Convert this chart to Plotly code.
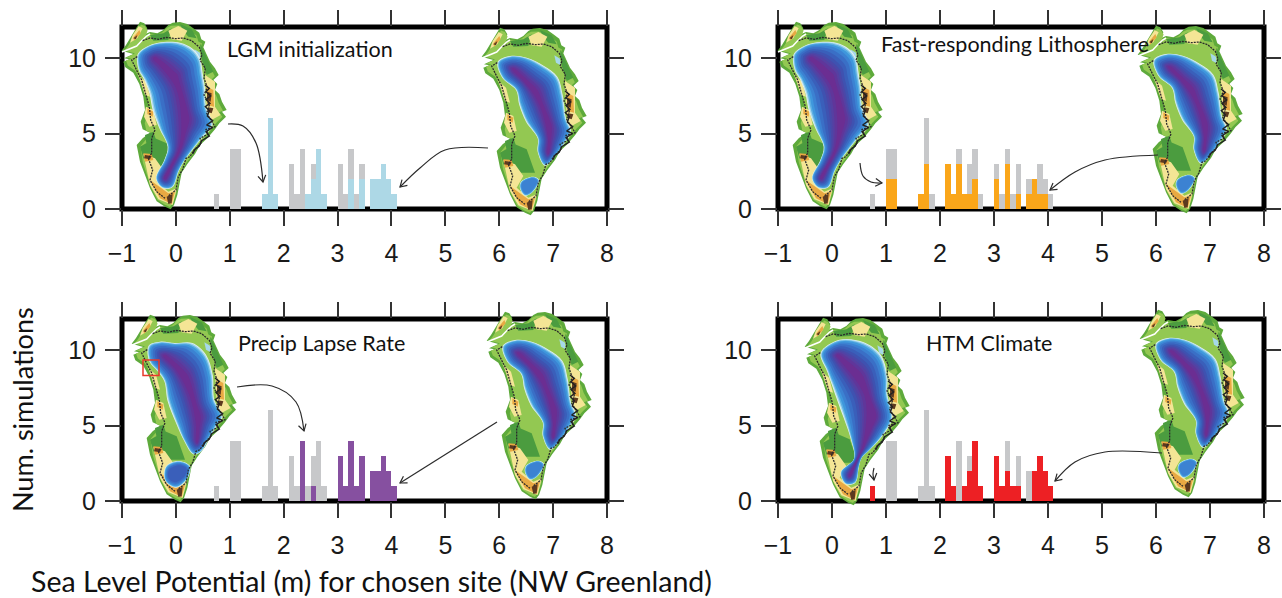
import plotly.graph_objects as go

# ---------- histogram data ----------
ALL_BINS = [0.75, 1.05, 1.15, 1.65, 1.75, 1.85, 2.15, 2.25, 2.35, 2.45, 2.55, 2.65, 2.75,
            3.05, 3.15, 3.25, 3.35, 3.45, 3.65, 3.75, 3.85, 3.95, 4.05]
ALL_COUNTS = [1, 4, 4, 1, 6, 1, 3, 1, 4, 1, 3, 4, 1, 3, 1, 4, 1, 3, 2, 2, 3, 2, 1]

LGM_BINS = [1.65, 1.75, 1.85, 2.45, 2.55, 2.65, 2.75, 3.25, 3.45, 3.65, 3.75, 3.85, 3.95, 4.05]
LGM_COUNTS = [1, 6, 1, 1, 2, 4, 1, 2, 2, 2, 2, 3, 2, 1]

LITHO_BINS = [1.05, 1.15, 1.65, 1.75, 2.15, 2.25, 2.35, 2.45, 2.55, 2.65, 3.05, 3.25, 3.45, 3.65, 3.75, 3.85, 3.95]
LITHO_COUNTS = [2, 2, 1, 3, 3, 1, 3, 1, 1, 2, 2, 3, 1, 1, 2, 1, 1]

PRECIP_BINS = [2.35, 2.55, 3.05, 3.15, 3.25, 3.35, 3.45, 3.65, 3.75, 3.85, 3.95, 4.05]
PRECIP_COUNTS = [4, 1, 3, 1, 4, 1, 3, 2, 2, 3, 2, 1]

HTM_BINS = [0.75, 2.15, 2.25, 2.45, 2.55, 2.65, 2.75, 3.05, 3.15, 3.25, 3.35, 3.45, 3.75, 3.85, 3.95, 4.05]
HTM_COUNTS = [1, 3, 1, 1, 2, 4, 1, 3, 1, 2, 1, 1, 2, 3, 2, 1]

PANEL_TITLES = ["LGM initialization", "Fast-responding Lithosphere", "Precip Lapse Rate", "HTM Climate"]
X_TICKS = [-1, 0, 1, 2, 3, 4, 5, 6, 7, 8]
Y_TICKS = [0, 5, 10]
X_LABEL = "Sea Level Potential (m) for chosen site (NW Greenland)"
Y_LABEL = "Num. simulations"

GRAY = "#c7c8ca"
COLORS = ["#add8e6", "#faa61a", "#8650a0", "#ed2024"]
SERIES = [(LGM_BINS, LGM_COUNTS), (LITHO_BINS, LITHO_COUNTS), (PRECIP_BINS, PRECIP_COUNTS), (HTM_BINS, HTM_COUNTS)]

W, H = 1282, 598
PANELS = [(122, 607, 27, 209), (778, 1264, 27, 209), (122, 607, 319, 501), (778, 1264, 319, 501)]
Y_TOP = 182 / 15.1

# ---------- Greenland illustration outlines (map units = 1/3 px) ----------
LAND = [(65,122),(78,105),(92,82),(105,60),(120,35),(133,40),(142,55),(136,72),(150,66),(172,70),(190,60),(205,45),(218,38),
        (240,36),(262,42),(280,55),(298,68),(304,88),(316,95),(310,112),(322,135),(330,155),(345,175),(356,195),(340,210),(352,222),(345,240),(358,252),
        (366,275),(380,300),(366,305),(378,320),(358,340),(345,358),(322,385),(300,405),(285,432),(262,462),(245,488),(240,515),
        (232,555),(222,585),(212,598),(195,590),(170,574),(150,535),(135,495),(120,455),(110,405),(128,385),(150,368),
        (128,358),(122,335),(135,300),(130,260),(118,222),(100,188),(76,172),(70,155),(88,148),(72,145),(100,132)]
ICE_LEFT_FULL = [(113,133),(140,110),(175,98),(240,98),(278,116),(300,145),(308,190),(315,235),(318,290),(338,345),
                 (308,382),(282,414),(257,447),(237,482),(217,532),(188,534),(168,505),(193,450),(203,410),(178,355),
                 (158,300),(148,250),(133,210),(116,180)]
ICE_BL_MAIN = [(116,128),(150,116),(195,120),(247,120),(288,155),(308,215),(313,290),(338,340),(318,372),(297,407),
               (272,447),(250,454),(223,415),(198,360),(173,295),(163,235),(143,205),(118,175)]
ICE_BL_DOME = [(168,490),(205,474),(240,490),(230,530),(198,554),(166,534)]
ICE_BR = [(113,140),(170,101),(240,108),(292,145),(313,210),(313,265),(328,335),(303,384),(262,430),(237,454),(228,480),
          (217,530),(188,534),(173,498),(213,458),(203,398),(168,298),(133,198)]
ICE_RIGHT_MAIN = [(113,138),(150,120),(200,125),(252,150),(292,182),(308,237),(318,307),(333,347),(312,384),(287,419),
                  (255,449),(233,407),(233,367),(198,317),(178,267),(168,222),(128,187)]
ICE_RIGHT_DOME = [(183,497),(220,482),(237,492),(217,529),(195,539),(180,517)]

SPINE_LAND = [(150,120),(215,150),(270,320),(230,420),(190,530)]
SPINE_LEFT = [(165,145),(225,200),(262,320),(240,420),(195,505)]
SPINE_BL = [(165,160),(230,225),(265,340),(262,415)]
SPINE_BR = [(165,150),(235,215),(275,330),(240,425),(200,510)]
SPINE_RIGHT = [(160,160),(225,225),(270,330),(265,410)]
SPINE_DOME_BL = [(190,515),(215,505)]
SPINE_DOME_R = [(205,510),(210,505)]

ICE_RAMP = ["#e3f2f5", "#a4d6ec", "#5cb0e3", "#3f97dc", "#3c82d2", "#3a6fc6", "#3a5fba", "#3f52b0", "#4a48a8", "#5640a2", "#60369a", "#6b2e92"]
ICE_STEPS = [0, 0.03, 0.07, 0.12, 0.2, 0.3, 0.42, 0.54, 0.64, 0.72, 0.8, 0.9]

DARK_GREEN = [(120,410),(165,385),(200,400),(225,470),(175,470),(130,445),
              None,(150,75),(190,70),(215,55),(205,90),(160,92),
              None,(300,100),(325,150),(340,185),(320,195),(305,150),
              None,(135,375),(160,365),(170,395),(140,405),
              None,(240,42),(275,58),(290,85),(265,80),(248,60)]
LIGHT_YELLOW = [(130,432),(165,445),(190,480),(170,515),(205,545),(230,535),(218,585),(175,568),(150,525),
                None,(98,75),(116,48),(128,55),(112,85),(90,98),
                None,(205,62),(235,48),(262,62),(245,92),(215,88),
                None,(315,195),(345,215),(345,290),(362,315),(325,335),(318,270),
                None,(138,290),(160,300),(170,345),(148,350),(132,320),
                None,(115,195),(138,215),(150,260),(135,255)]
ORANGE = [(150,510),(172,525),(205,550),(225,545),(215,582),(180,565),
          None,(320,230),(340,240),(342,290),(322,285),
          None,(100,82),(118,60),(122,70),(102,92),
          None,(142,295),(160,305),(158,320),(142,312),
          None,(130,430),(155,432),(160,450),(135,455)]
BROWN = [(200,560),(218,552),(215,580),(205,582),
         None,(322,245),(335,250),(332,275),(320,270),
         None,(135,435),(155,438),(150,448),(132,445),
         None,(100,85),(112,75),(108,88),
         None,(325,292),(340,295),(335,310),(322,305)]
PALE_BLUE = [(283,118),(300,128),(302,148),(288,140)]
FJORD = [(66,126),(85,118),(110,108),(125,92),(140,78),(150,72)]
MARGIN_LINES = [(128,92),(150,84),(175,88),(200,82),(225,86),(250,84),(275,92),(298,112),(306,135),(300,150),(316,175),
                (312,205),(322,232),(312,255),(328,285),(320,310),(345,350),(318,358),(325,372),(300,385),(305,398),
                (282,420),(270,440),(258,445),(248,478),(235,500),(228,540),(205,558),
                None,(112,140),(95,150),(112,185),(125,210),(135,245),(148,290),(152,330),(165,360),(155,385),(155,430),
                (145,445),(158,480),(150,510),(170,545),(195,565)]
EAST_SCRIBBLE = [(315,225),(328,235),(318,245),(332,258),(318,268),(330,280),(316,290),(328,302),(322,318),(338,332),(320,345),
                 (338,352),(318,365),(328,378),(305,392),(298,408),(285,418),(278,432)]


def nearest(p, spine):
    best, bd = None, 1e12
    for (a, b) in zip(spine[:-1], spine[1:]):
        dx, dy = b[0] - a[0], b[1] - a[1]
        t = ((p[0] - a[0]) * dx + (p[1] - a[1]) * dy) / (dx * dx + dy * dy)
        t = max(0, min(1, t))
        q = (a[0] + t * dx, a[1] + t * dy)
        d = (p[0] - q[0]) ** 2 + (p[1] - q[1]) ** 2
        if d < bd:
            best, bd = q, d
    return best


def inset(outline, spine, t):
    pts = []
    for p in outline:
        q = nearest(p, spine)
        pts.append((p[0] + (q[0] - p[0]) * t, p[1] + (q[1] - p[1]) * t))
    return pts + pts[:1]


fig = go.Figure()
axes = {}
shapes = []
annotations = []

# ---------- panels ----------
for i, (x0, x1, yt, yb) in enumerate(PANELS):
    sfx = str(i + 1)
    xname = "x" if i == 0 else "x" + sfx
    yname = "y" if i == 0 else "y" + sfx
    fig.add_bar(x=ALL_BINS, y=ALL_COUNTS, width=0.1, marker=dict(color=GRAY, line=dict(width=0)),
                xaxis=xname, yaxis=yname, showlegend=False, hoverinfo="skip")
    bins, counts = SERIES[i]
    fig.add_bar(x=bins, y=counts, width=0.1, marker=dict(color=COLORS[i], line=dict(width=0)),
                xaxis=xname, yaxis=yname, showlegend=False)
    tick = dict(ticks="outside", ticklen=16, tickwidth=2, tickcolor="#333333", showgrid=False, zeroline=False,
                showline=False, mirror="allticks", layer="below traces", automargin=False,
                tickfont=dict(family="Liberation Sans, Arial", size=25, color="#1a1a1a"))
    axes["xaxis" + ("" if i == 0 else sfx)] = dict(domain=[x0 / W, x1 / W], range=[-1, 8], tickvals=X_TICKS,
                                                   anchor=yname, ticklabelstandoff=6, **tick)
    axes["yaxis" + ("" if i == 0 else sfx)] = dict(domain=[1 - yb / H, 1 - yt / H], range=[0, Y_TOP], tickvals=Y_TICKS,
                                                   anchor=xname, ticklabelstandoff=4, **tick)
    shapes.append(dict(type="rect", xref="paper", yref="paper", x0=x0 / W, x1=x1 / W, y0=1 - yb / H, y1=1 - yt / H,
                       line=dict(color="#000000", width=5), layer="below"))

# ---------- overlay in page pixels ----------
axes["xaxis5"] = dict(domain=[0, 1], range=[0, W], visible=False, anchor="y5", fixedrange=True, automargin=False)
axes["yaxis5"] = dict(domain=[0, 1], range=[H, 0], visible=False, anchor="x5", fixedrange=True, automargin=False)


def poly(pts, ox, oy, fill=None, line=None, width=1, dash=None, smooth=False):
    xs = [None if p is None else ox + p[0] / 3 for p in pts]
    ys = [None if p is None else oy + p[1] / 3 for p in pts]
    kw = dict(x=xs, y=ys, mode="lines", xaxis="x5", yaxis="y5", showlegend=False, hoverinfo="skip")
    shape = "spline" if smooth else "linear"
    if fill:
        fig.add_scatter(fill="toself", fillcolor=fill, line=dict(width=0, color=fill, shape=shape), **kw)
    else:
        fig.add_scatter(line=dict(color=line, width=width, dash=dash, shape=shape), **kw)


def ice(outline, spine, ox, oy, n=len(ICE_RAMP)):
    for c, t in zip(ICE_RAMP[:n], ICE_STEPS[:n]):
        poly(inset(outline, spine, t), ox, oy, fill=c, smooth=True)


def greenland(ox, oy, variant):
    poly(LAND + LAND[:1], ox, oy, fill="#5eaa3b")
    poly(inset(LAND, SPINE_LAND, 0.1), ox, oy, fill="#93c852")
    poly(DARK_GREEN, ox, oy, fill="#4b9c3f")
    poly(LIGHT_YELLOW, ox, oy, fill="#f4e595")
    poly(ORANGE, ox, oy, fill="#e9a943")
    poly(BROWN, ox, oy, fill="#5d3a1f")
    poly(PALE_BLUE, ox, oy, fill="#a6d8ea")
    poly(FJORD, ox, oy, line="#ffffff", width=1.5)
    if variant == "full":
        ice(ICE_LEFT_FULL, SPINE_LEFT, ox, oy)
    elif variant == "bl":
        ice(ICE_BL_MAIN, SPINE_BL, ox, oy)
        ice(ICE_BL_DOME, SPINE_DOME_BL, ox, oy, n=7)
    elif variant == "br":
        ice(ICE_BR, SPINE_BR, ox, oy)
    else:
        ice(ICE_RIGHT_MAIN, SPINE_RIGHT, ox, oy)
        ice(ICE_RIGHT_DOME, SPINE_DOME_R, ox, oy, n=5)
    poly(MARGIN_LINES, ox, oy, line="#2b2b2b", width=1.3, dash="2px,1px")
    poly(EAST_SCRIBBLE, ox, oy, line="#222222", width=1.4)


MAP_PLACES = [(100, 10, "full"), (460, 16, "right"), (756, 10, "full"), (1116, 14, "right"),
              (110, 303, "bl"), (465, 300, "right"), (783, 306, "br"), (1118, 298, "right")]
for ox, oy, v in MAP_PLACES:
    greenland(ox, oy, v)


def arrow(pts, head=6.5):
    xs = [p[0] for p in pts]
    ys = [p[1] for p in pts]
    fig.add_scatter(x=xs, y=ys, mode="lines", line=dict(color="#2b2b2b", width=1.2, shape="spline"),
                    xaxis="x5", yaxis="y5", showlegend=False, hoverinfo="skip")
    (ax, ay), (bx, by) = pts[-2], pts[-1]
    d = ((bx - ax) ** 2 + (by - ay) ** 2) ** 0.5
    ux, uy = (bx - ax) / d, (by - ay) / d
    hx = [bx - head * (ux - 0.6 * uy), bx, bx - head * (ux + 0.6 * uy)]
    hy = [by - head * (uy + 0.6 * ux), by, by - head * (uy - 0.6 * ux)]
    fig.add_scatter(x=hx, y=hy, mode="lines", line=dict(color="#2b2b2b", width=1.2), xaxis="x5", yaxis="y5",
                    showlegend=False, hoverinfo="skip")


ARROWS = [
    [(228, 124), (243, 126), (256, 143), (263, 182)],
    [(488, 148), (445, 150), (420, 168), (400, 187)],
    [(860, 163), (863, 176), (871, 182), (882, 183)],
    [(1158, 155), (1105, 160), (1075, 172), (1050, 190)],
    [(237, 387), (272, 386), (296, 402), (304, 431)],
    [(497, 422), (400, 483)],
    [(874, 468), (873, 474), (874, 480)],
    [(1162, 453), (1105, 452), (1075, 462), (1055, 481)],
]
for a in ARROWS:
    arrow(a)

shapes.append(dict(type="rect", xref="x5", yref="y5", x0=143, x1=159, y0=360, y1=375.5,
                   line=dict(color="#e8392b", width=1.5), layer="above"))

TITLE_POS = [(310, 49), (1015, 44), (322, 343), (989, 343)]
for t, (x, y) in zip(PANEL_TITLES, TITLE_POS):
    annotations.append(dict(text=t, x=x / W, y=1 - y / H, xref="paper", yref="paper", showarrow=False,
                            xanchor="center", yanchor="middle",
                            font=dict(family="Lato", size=21.5, color="#111111")))
annotations.append(dict(text=X_LABEL, x=371 / W, y=1 - 580.5 / H, xref="paper", yref="paper", showarrow=False,
                        xanchor="center", yanchor="middle",
                        font=dict(family="Lato", size=28.5, color="#111111")))
annotations.append(dict(text=Y_LABEL, x=22 / W, y=1 - 410 / H, xref="paper", yref="paper", showarrow=False, textangle=-90,
                        xanchor="center", yanchor="middle",
                        font=dict(family="Lato", size=27, color="#111111")))

fig.update_layout(width=W, height=H, autosize=False, margin=dict(l=0, r=0, t=0, b=0, autoexpand=False), barmode="overlay", bargap=0,
                  paper_bgcolor="white", plot_bgcolor="rgba(0,0,0,0)", showlegend=False,
                  shapes=shapes, annotations=annotations, **axes)
fig.write_html("out.html", config=dict(displayModeBar=False),
               post_script="document.body.style.margin='0';document.documentElement.style.overflow='hidden';")
